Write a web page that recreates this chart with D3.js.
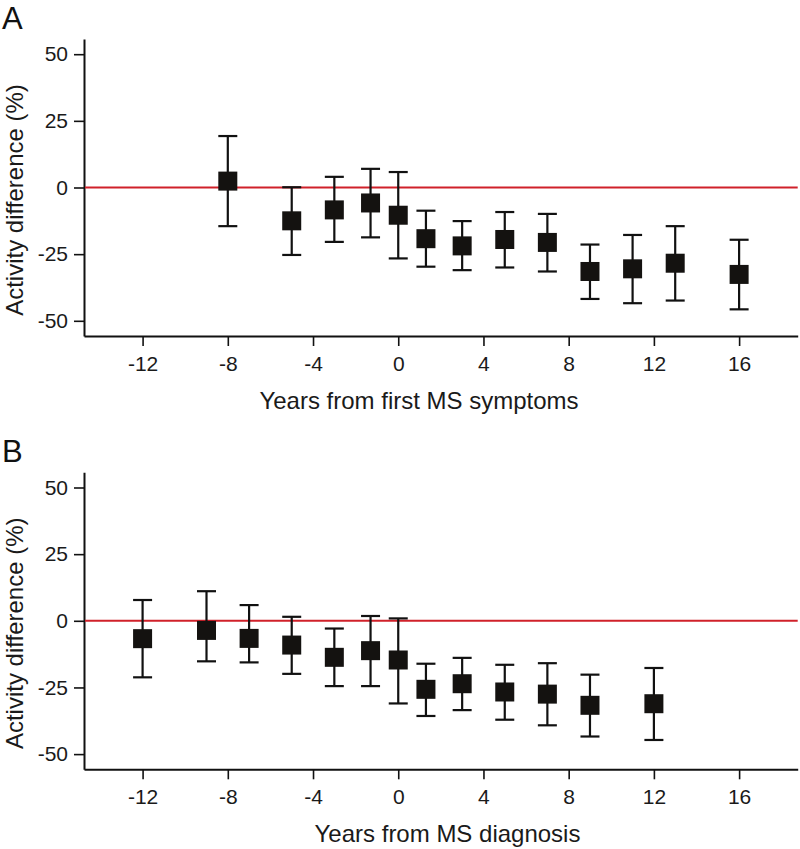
<!DOCTYPE html>
<html>
<head>
<meta charset="utf-8">
<script src="https://cdn.jsdelivr.net/npm/d3@7"></script>
<style>
  html, body { margin: 0; padding: 0; background: #fff; }
  svg { display: block; font-family: "Liberation Sans", Arial, sans-serif; }
</style>
</head>
<body>
<svg id="chart" width="800" height="849"></svg>
<script>
// ---- Data ----
const xTicks = [-12, -8, -4, 0, 4, 8, 12, 16];
const yTicks = [-50, -25, 0, 25, 50];

const panelLabels = ["A", "B"];
const xTitles = ["Years from first MS symptoms", "Years from MS diagnosis"];
const yTitle = "Activity difference (%)";

const yearsA = [-8, -5, -3, -1.3, 0, 1.3, 3, 5, 7, 9, 11, 13, 16];
const meanA  = [2.4, -12.5, -8.4, -5.8, -10.4, -19.2, -21.9, -19.5, -20.6, -31.5, -30.5, -28.4, -32.6];
const upperA = [19.3, 0.1, 4.0, 7.0, 5.8, -8.7, -12.6, -9.2, -9.9, -21.4, -17.8, -14.5, -19.6];
const lowerA = [-14.5, -25.3, -20.4, -18.7, -26.6, -29.7, -31.0, -30.0, -31.5, -41.8, -43.4, -42.4, -45.7];

const yearsB = [-12, -9, -7, -5, -3, -1.3, 0, 1.3, 3, 5, 7, 9, 12];
const meanB  = [-6.7, -3.6, -6.6, -9.1, -13.7, -11.2, -14.7, -25.7, -23.6, -26.7, -27.5, -31.7, -31.1];
const upperB = [7.8, 11.1, 5.9, 1.5, -2.9, 1.8, 0.9, -16.1, -13.9, -16.5, -15.9, -20.2, -17.7];
const lowerB = [-21.2, -15.2, -15.6, -19.9, -24.5, -24.5, -31.0, -35.7, -33.5, -37.1, -39.2, -43.4, -44.7];

// ---- Layout ----
const svg = d3.select("#chart");
const left = 84, right = 797.7;
const top0 = 39, bottom0 = 336;
const panelOffset = [0, 433.3];
const titleX = [419, 447.5];

const x = d3.scaleLinear().domain([-14.75, 18.75]).range([left, right]);
const y = d3.scaleLinear().domain([-55.7, 55.7]).range([bottom0, top0]);

const panels = [
  { years: yearsA, mean: meanA, upper: upperA, lower: lowerA },
  { years: yearsB, mean: meanB, upper: upperB, lower: lowerB }
];

const sq = 19, cap = 19;
const fmt = d => String(d);

panels.forEach((p, i) => {
  const g = svg.append("g").attr("transform", `translate(0,${panelOffset[i]})`);

  // panel letter
  g.append("text")
    .attr("x", 2).attr("y", 29)
    .attr("font-size", 31)
    .attr("fill", "#111")
    .text(panelLabels[i]);

  // y axis
  const ya = g.append("g")
    .attr("transform", `translate(${left},0)`)
    .call(d3.axisLeft(y).tickValues(yTicks).tickSize(10).tickSizeOuter(0).tickPadding(6).tickFormat(fmt));
  // x axis
  const xa = g.append("g")
    .attr("transform", `translate(0,${bottom0})`)
    .call(d3.axisBottom(x).tickValues(xTicks).tickSize(10).tickSizeOuter(0).tickPadding(10).tickFormat(fmt));

  [ya, xa].forEach(a => {
    a.select(".domain").attr("stroke", "#111").attr("stroke-width", 2);
    a.selectAll(".tick line").attr("stroke", "#111").attr("stroke-width", 1.6);
    a.selectAll(".tick text").attr("font-size", 21).attr("fill", "#1a1a1a")
      .attr("font-family", "Liberation Sans, Arial, sans-serif");
  });

  // reference line at 0
  g.append("line")
    .attr("x1", left + 1).attr("x2", right)
    .attr("y1", y(0)).attr("y2", y(0))
    .attr("stroke", "#d0212a").attr("stroke-width", 2);

  // error bars
  const data = p.years.map((yr, k) => ({ yr, m: p.mean[k], u: p.upper[k], l: p.lower[k] }));
  const eb = g.append("g").attr("stroke", "#111").attr("stroke-width", 2.2).attr("fill", "none");
  eb.selectAll("line.v").data(data).join("line")
    .attr("x1", d => x(d.yr)).attr("x2", d => x(d.yr))
    .attr("y1", d => y(d.u)).attr("y2", d => y(d.l));
  eb.selectAll("line.cu").data(data).join("line")
    .attr("x1", d => x(d.yr) - cap / 2).attr("x2", d => x(d.yr) + cap / 2)
    .attr("y1", d => y(d.u)).attr("y2", d => y(d.u));
  eb.selectAll("line.cl").data(data).join("line")
    .attr("x1", d => x(d.yr) - cap / 2).attr("x2", d => x(d.yr) + cap / 2)
    .attr("y1", d => y(d.l)).attr("y2", d => y(d.l));

  // squares
  g.append("g").selectAll("rect").data(data).join("rect")
    .attr("x", d => x(d.yr) - sq / 2)
    .attr("y", d => y(d.m) - sq / 2)
    .attr("width", sq).attr("height", sq)
    .attr("fill", "#141210");

  // axis titles
  g.append("text")
    .attr("x", titleX[i]).attr("y", 409)
    .attr("text-anchor", "middle")
    .attr("font-size", 24)
    .attr("fill", "#1a1a1a")
    .text(xTitles[i]);

  g.append("text")
    .attr("transform", `translate(23,200) rotate(-90)`)
    .attr("text-anchor", "middle")
    .attr("font-size", 24)
    .attr("fill", "#1a1a1a")
    .text(yTitle);
});
</script>
</body>
</html>
